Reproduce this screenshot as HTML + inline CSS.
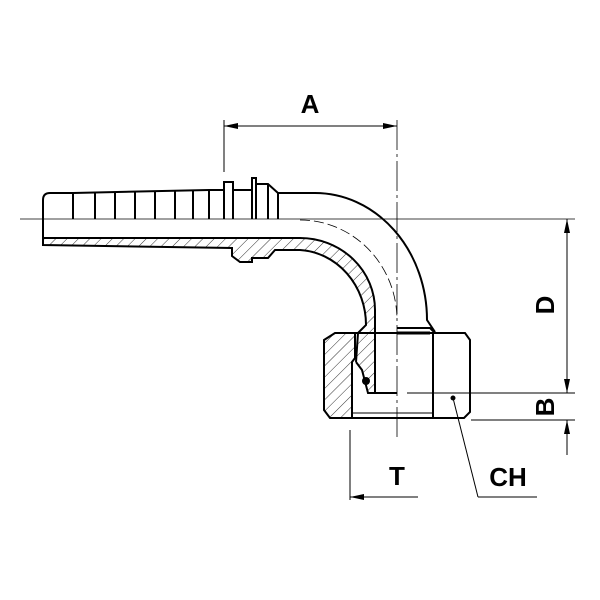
<!DOCTYPE html>
<html><head><style>body{margin:0;background:#fff}svg{display:block}</style></head><body>
<svg width="600" height="600" viewBox="0 0 600 600" xmlns="http://www.w3.org/2000/svg" font-family="Liberation Sans, sans-serif">
<defs>
<pattern id="h" width="8" height="8" patternUnits="userSpaceOnUse" patternTransform="rotate(45)"><line x1="0" y1="0" x2="0" y2="8" stroke="#000" stroke-width="0.8"/></pattern>
</defs>
<line x1="20" y1="219" x2="575" y2="219" stroke="#000" stroke-width="0.8"/>
<line x1="397" y1="120" x2="397" y2="440" stroke="#000" stroke-width="0.8" stroke-dasharray="30,4,3,4"/>
<path d="M300,220 A97,100 0 0 1 397,320" fill="none" stroke="#000" stroke-width="0.8" stroke-dasharray="10,4"/>
<path d="M43,238 L300,238 A75,72 0 0 1 375,310 L375,393 L368,393 L362,370 L356,362 L358,333 L366,325 A70,75 0 0 0 300,250 L275,250 L268,258 L252,258 L252,262 L240,262 L232,256 L232,248 L43,245 Z" fill="url(#h)" stroke="none"/>
<path d="M43,238 L300,238 A75,72 0 0 1 375,310 L375,393" fill="none" stroke="#000" stroke-width="2"/>
<path d="M43,200 Q43,193 50,193 L73,193 L209,190 L224,190 L224,182 L233,182 L233,190 L252,190 L252,178 L256,178 L256,184 L268,184 L278,193 L315,193 A112,127 0 0 1 427,320 L435,332" fill="none" stroke="#000" stroke-width="2"/>
<path d="M43,200 L43,245 L232,248 L232,256 L240,262 L252,262 L252,258 L268,258 L275,250 L300,250 A70,75 0 0 1 366,325 L358,333 L356,362" fill="none" stroke="#000" stroke-width="2"/>
<g stroke="#000" stroke-width="2">
<line x1="73" y1="193" x2="73" y2="219"/><line x1="95" y1="193" x2="95" y2="219"/><line x1="115" y1="192" x2="115" y2="219"/><line x1="135" y1="192" x2="135" y2="219"/><line x1="155" y1="191" x2="155" y2="219"/><line x1="175" y1="191" x2="175" y2="219"/><line x1="193" y1="190" x2="193" y2="219"/><line x1="209" y1="190" x2="209" y2="219"/>
<line x1="224" y1="190" x2="224" y2="219"/><line x1="233" y1="190" x2="233" y2="219"/><line x1="252" y1="190" x2="252" y2="219"/><line x1="256" y1="184" x2="256" y2="219"/><line x1="268" y1="184" x2="268" y2="219"/><line x1="278" y1="193" x2="278" y2="219"/>
</g>
<path d="M324,340 L335,333 L355,333 L355,358 L352,362 L352,418 L330,418 L324,410 Z" fill="url(#h)" stroke="#000" stroke-width="2"/>
<path d="M355,333 L465,333 L470,340 L470,412 L464,418 L330,418" fill="none" stroke="#000" stroke-width="2"/>
<line x1="433" y1="333" x2="433" y2="418" stroke="#000" stroke-width="2"/>
<path d="M397,328 L430,328 L435,333" fill="none" stroke="#000" stroke-width="2"/>
<path d="M397,333 L430,333" stroke="#000" stroke-width="3"/>
<path d="M356,362 L362,370 L368,393 L397,393" fill="none" stroke="#000" stroke-width="2"/>
<circle cx="366" cy="381" r="4" fill="#000"/>
<line x1="352" y1="413" x2="433" y2="413" stroke="#000" stroke-width="1"/>
<g stroke="#000" stroke-width="1" fill="#000">
<line x1="224" y1="120" x2="224" y2="172"/>
<line x1="224" y1="126" x2="397" y2="126"/>
<path d="M224,126 l14,-3 v6z M397,126 l-14,-3 v6z" stroke="none"/>
<line x1="407" y1="393" x2="575" y2="393"/>
<line x1="471" y1="420" x2="575" y2="420"/>
<line x1="567" y1="219" x2="567" y2="393"/>
<path d="M567,219 l-3,14 h6z M567,393 l-3,-14 h6z" stroke="none"/>
<line x1="567" y1="420" x2="567" y2="455"/>
<path d="M567,420 l-3,14 h6z" stroke="none"/>
<line x1="350" y1="430" x2="350" y2="500"/>
<line x1="350" y1="497" x2="418" y2="497"/>
<path d="M350,497 l14,-3 v6z" stroke="none"/>
<line x1="453" y1="398" x2="478" y2="497"/>
<line x1="478" y1="497" x2="537" y2="497"/>
<circle cx="453" cy="398" r="2"/>
</g>
<g font-weight="bold" font-size="26" fill="#000" text-anchor="middle">
<text x="310" y="113">A</text>
<text x="397" y="485">T</text>
<text x="508" y="486">CH</text>
<text transform="translate(554,305) rotate(-90)">D</text>
<text transform="translate(554,407) rotate(-90)">B</text>
</g>
</svg>
</body></html>
